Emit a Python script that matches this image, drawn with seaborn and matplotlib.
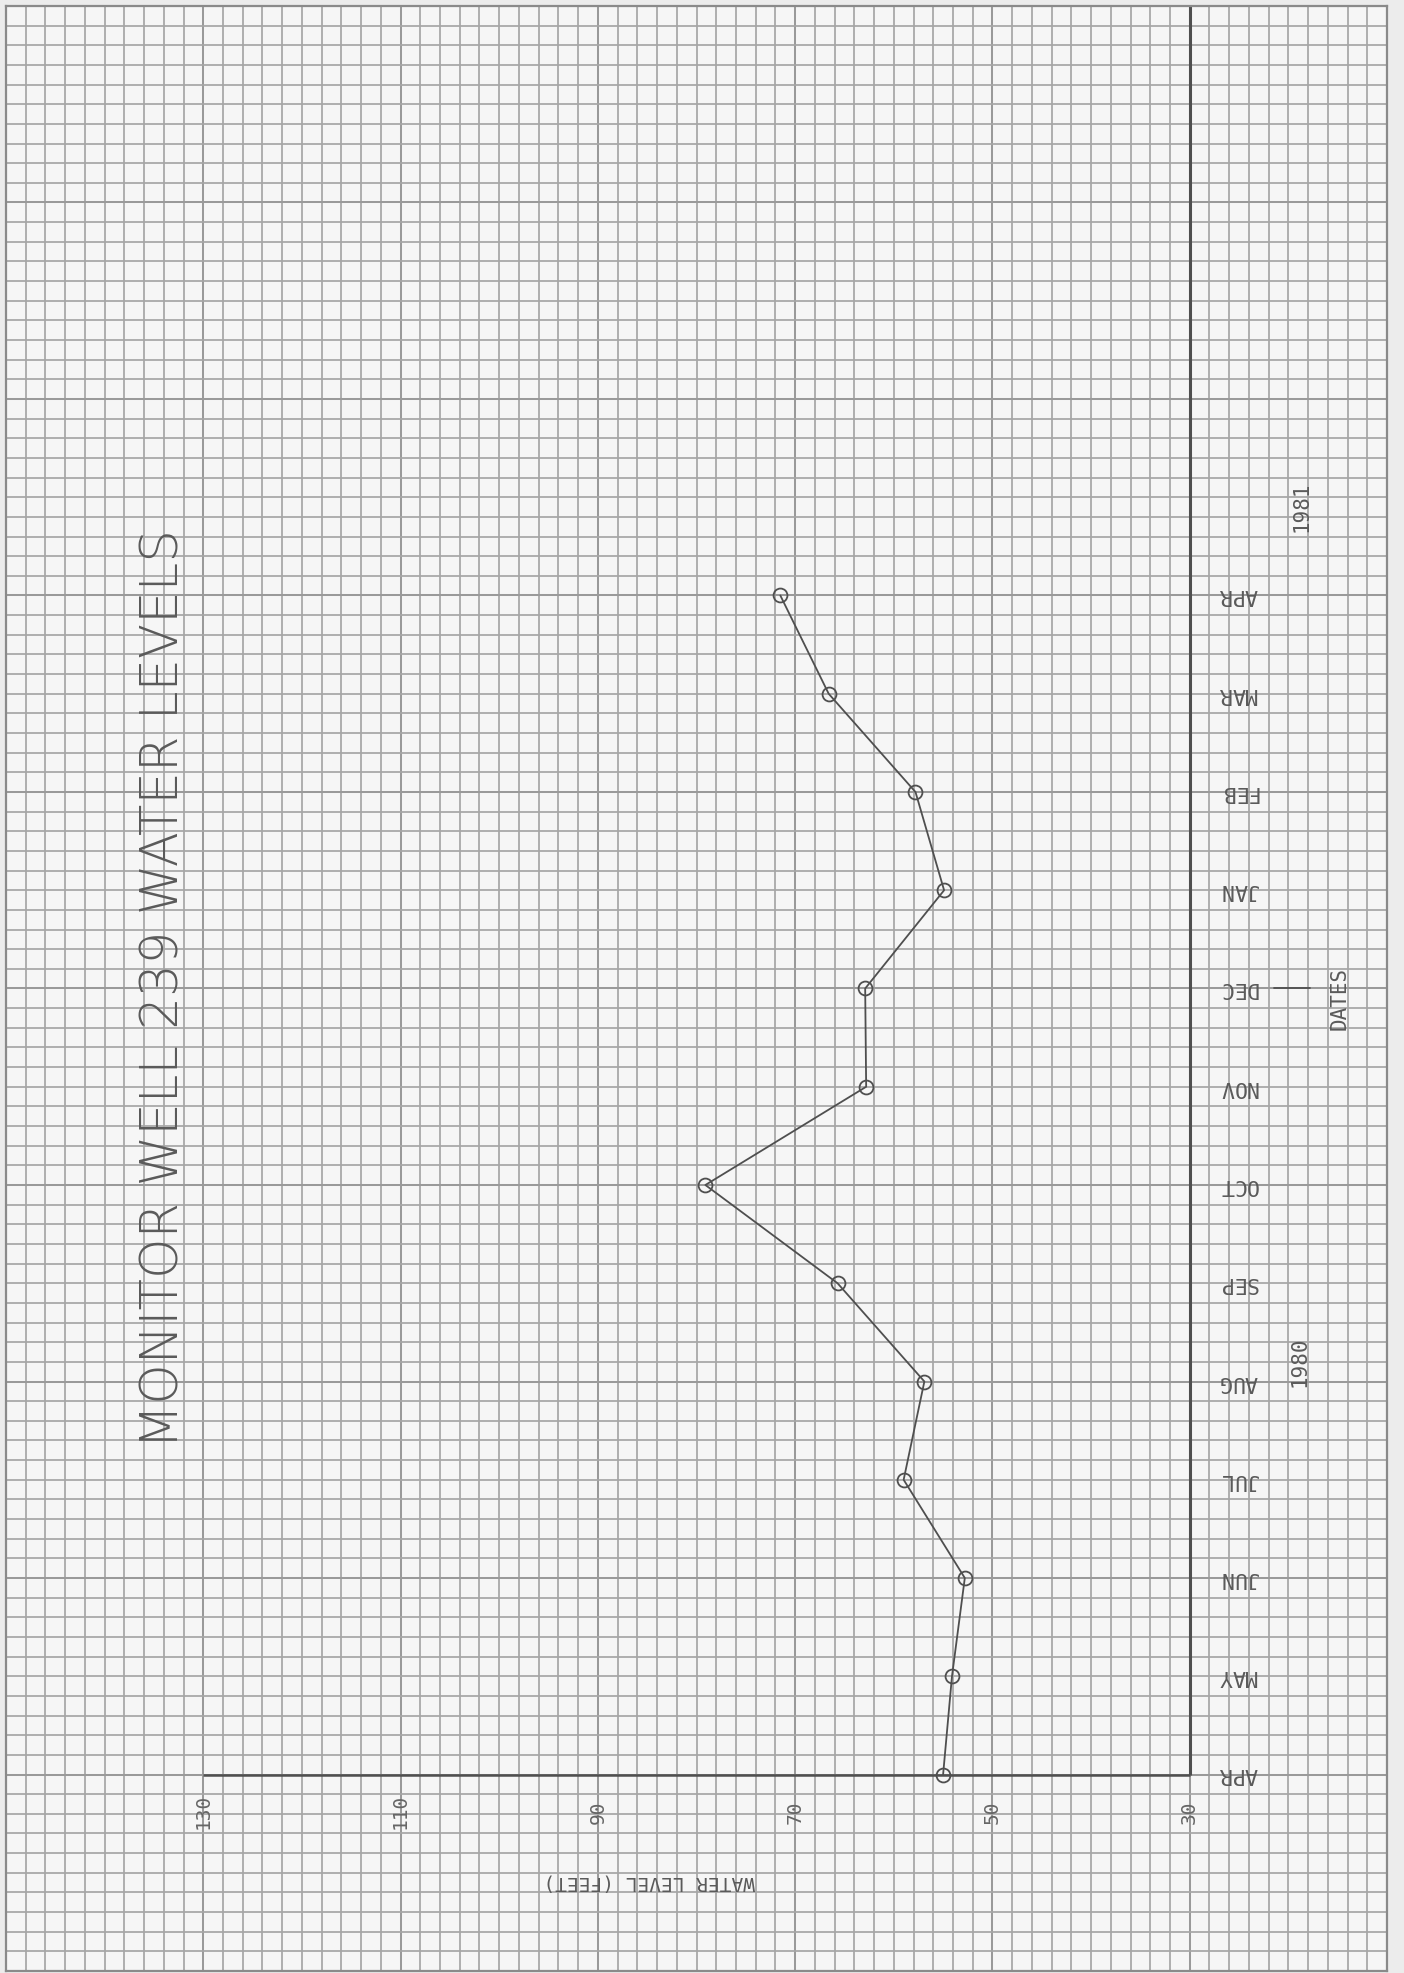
import numpy as np
import pandas as pd
import matplotlib
matplotlib.use("Agg")
import matplotlib.pyplot as plt
import seaborn as sns

# Monthly water levels, April 1980 through April 1981
months = ["APR", "MAY", "JUN", "JUL", "AUG", "SEP", "OCT",
          "NOV", "DEC", "JAN", "FEB", "MAR", "APR"]
water_level_ft = [55.0, 54.1, 52.8, 59.0, 56.9, 65.7, 79.1,
                  62.8, 62.9, 54.9, 57.8, 66.6, 71.5]
level_ticks = [30, 50, 70, 90, 110, 130]
year_labels = ["1980", "1981"]

sns.set_theme(style="white")
plt.rcParams["font.family"] = ["DejaVu Sans"]

W, H = 1404, 1973
fig = plt.figure(figsize=(W / 100, H / 100), dpi=100, facecolor="#ececec")

# graph-paper area: 70 x 100 squares, 2 ft per column, 5 rows per month
gl, gr, gt, gb = 6, 1387, 6, 1971
ax = fig.add_axes([gl / W, 1 - gb / H, (gr - gl) / W, (gb - gt) / H])
ax.set_facecolor("#f6f6f6")
ax.set_xlim(150, 10)
ax.set_ylim(-2, 18)
ax.set_xticks([])
ax.set_yticks([])
for s in ax.spines.values():
    s.set_color("#8a8a8a")
    s.set_linewidth(1.6)

paper = "#a6a6a6"
paper_heavy = "#9a9a9a"
for k in range(71):
    heavy = k % 10 == 0
    ax.axvline(10 + 2 * k, color=paper_heavy if heavy else paper,
               lw=1.45 if heavy else 1.25, zorder=0)
for k in range(101):
    heavy = k % 10 == 0
    ax.axhline(-2 + 0.2 * k, color=paper_heavy if heavy else paper,
               lw=1.45 if heavy else 1.25, zorder=0)

ink = "#4f4f4f"

# chart axes drawn on the paper
ax.plot([30, 30], [0, 18], color=ink, lw=2.2, zorder=2, solid_capstyle="butt")
ax.plot([130, 30], [0, 0], color=ink, lw=1.8, zorder=2, solid_capstyle="butt")

df = pd.DataFrame({"level": water_level_ft, "month": np.arange(len(months))})
sns.lineplot(data=df, x="level", y="month", orient="y", estimator=None,
             sort=False, color=ink, lw=1.3, marker="o", markersize=10,
             markerfacecolor="none", markeredgecolor=ink,
             markeredgewidth=1.3, legend=False, ax=ax, zorder=3)
ax.set_xlabel("")
ax.set_ylabel("")
ax.set_xlim(150, 10)
ax.set_ylim(-2, 18)

mono = ["DejaVu Sans Mono"]
text_c = "#5a5a5a"

ax.text(134.0, 8.0, "MONITOR WELL 239 WATER LEVELS", rotation=90,
        ha="center", va="center", fontsize=37, color=text_c,
        fontweight="light")

for i, m in enumerate(months):
    ax.text(25.1, i, m, rotation=180, ha="center", va="center",
            fontsize=15.5, family=mono, color=text_c)

for v in level_ticks:
    ax.text(v, -0.38, str(v), rotation=90, ha="center", va="center",
            fontsize=14, family=mono, color="#666666")

ax.text(84.8, -1.09, "WATER LEVEL (FEET)", rotation=180, ha="center",
        va="center", fontsize=14, family=mono, color=text_c)

ax.text(14.8, 7.9, "DATES", rotation=90, ha="center", va="center",
        fontsize=15, family=mono, color=text_c)
ax.plot([21.5, 17.8], [8, 8], color=ink, lw=1.3, zorder=2)

ax.text(18.9, 4.2, year_labels[0], rotation=90, ha="center", va="center",
        fontsize=15, family=mono, color=text_c)
ax.text(18.7, 12.9, year_labels[1], rotation=90, ha="center", va="center",
        fontsize=15, family=mono, color=text_c)

fig.savefig("out.png", dpi=100, facecolor=fig.get_facecolor())
